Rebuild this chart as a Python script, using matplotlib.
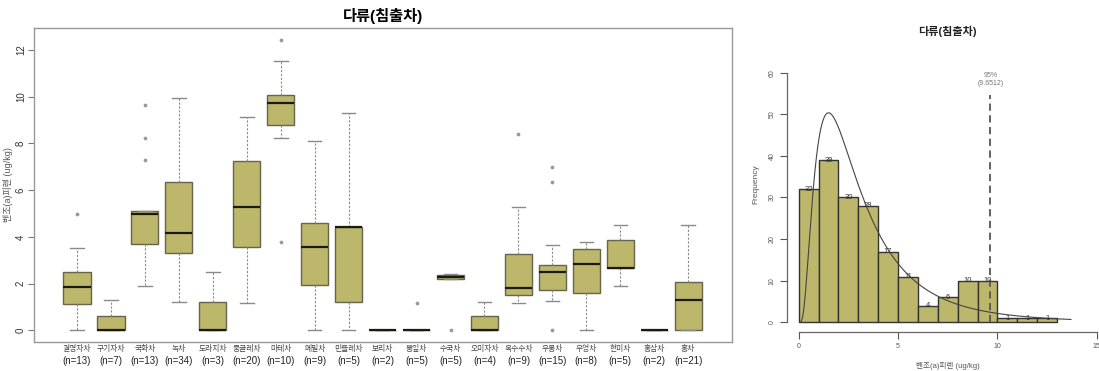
import numpy as np
import matplotlib
matplotlib.use("Agg")
import matplotlib.pyplot as plt
from matplotlib.transforms import offset_copy

plt.rcParams['font.family'] = ['Liberation Sans', 'Noto Sans CJK KR', 'DejaVu Sans']

# ---- box plot data: benzo(a)pyrene in infused teas (ug/kg) ----
teas = ["결명자차", "구기자차", "국화차", "녹차", "도라지차", "둥글레차", "마테차",
        "메밀차", "민들레차", "보리차", "뽕잎차", "수국차", "오미자차", "옥수수차",
        "우롱차", "우엉차", "현미차", "홍삼차", "홍차"]
counts_n = [13, 7, 13, 34, 3, 20, 10, 9, 5, 2, 5, 5, 4, 9, 15, 8, 5, 2, 21]
whisker_low = [0.0, 0.0, 1.91, 1.23, 0.0, 1.17, 8.22, 0.0, 0.0, 0.0, 0.0, 2.18, 0.0, 1.17, 1.24, 0.0, 1.90, 0.0, 0.0]
q1 = [1.13, 0.0, 3.68, 3.30, 0.0, 3.55, 8.79, 1.94, 1.20, 0.0, 0.0, 2.18, 0.0, 1.53, 1.71, 1.58, 2.67, 0.0, 0.0]
median = [1.87, 0.0, 4.98, 4.17, 0.0, 5.28, 9.75, 3.57, 4.41, 0.0, 0.0, 2.28, 0.0, 1.81, 2.51, 2.85, 2.68, 0.0, 1.30]
q3 = [2.48, 0.60, 5.09, 6.34, 1.23, 7.23, 10.09, 4.58, 4.44, 0.0, 0.0, 2.35, 0.60, 3.27, 2.80, 3.47, 3.87, 0.0, 2.08]
whisker_high = [3.51, 1.28, 5.09, 9.96, 2.48, 9.12, 11.54, 8.09, 9.32, 0.0, 0.0, 2.40, 1.20, 5.27, 3.65, 3.77, 4.51, 0.0, 4.49]
outliers = [[4.99], [], [7.31, 8.23, 9.66], [], [], [], [12.43, 3.77],
            [], [], [], [1.17], [0.0], [], [8.39], [6.35, 6.99, 0.0], [], [], [], []]

# ---- histogram data ----
bin_edges = [0, 1, 2, 3, 4, 5, 6, 7, 8, 9, 10, 11, 12, 13]
bin_counts = [32, 39, 30, 28, 17, 11, 4, 6, 10, 10, 1, 1, 1]
fit_meanlog = 0.975
fit_sdlog = 0.755
p95_value = 9.6512

box_fill = "#BDB76B"
box_edge = "#66644A"
grey = "#8A8A8A"

fig = plt.figure(figsize=(10.99, 3.71), dpi=100)
W, H = 1099, 371

# ---------------- left: box plots ----------------
ax = fig.add_axes([34.3 / W, 1 - 341.7 / H, (731.7 - 34.3) / W, (341.7 - 28.3) / H])
stats = []
for i in range(len(teas)):
    stats.append(dict(whislo=whisker_low[i], q1=q1[i], med=median[i], q3=q3[i],
                      whishi=whisker_high[i], fliers=outliers[i], label=teas[i]))
pos = np.arange(1, len(teas) + 1)
ax.bxp(stats, positions=pos, widths=0.8, patch_artist=True, showfliers=True,
       boxprops=dict(facecolor=box_fill, edgecolor=box_edge, linewidth=1.0),
       medianprops=dict(color="#1a1a10", linewidth=1.6, solid_capstyle="butt"),
       whiskerprops=dict(color=grey, linewidth=0.8, linestyle=(0, (2, 1.5))),
       capprops=dict(color=grey, linewidth=1.0),
       capwidths=0.4,
       flierprops=dict(marker='o', markersize=1.7, markerfacecolor="#999999",
                       markeredgecolor="#999999", linestyle='none'))
ax.set_xlim(-0.257, 20.28)
ax.set_ylim(-0.49, 12.93)
ax.set_yticks([0, 2, 4, 6, 8, 10, 12])
ax.set_yticklabels(["0", "2", "4", "6", "8", "10", "12"], rotation=90, va='center',
                   fontsize=7, color="#333333")
ax.tick_params(axis='y', length=4, color="#777777", pad=2)
ax.set_xticks([])
for s in ax.spines.values():
    s.set_color("#999999")
    s.set_linewidth(1.0)
ax.set_ylabel("벤조(a)피렌 (ug/kg)", fontsize=6.5, color="#555555", labelpad=2)
ax.set_title("다류(침출차)", fontsize=11, fontweight='bold', pad=5)

trans = ax.get_xaxis_transform()
for p, name, n in zip(pos, teas, counts_n):
    ax.text(p, 0, name, transform=offset_copy(trans, fig=fig, x=0, y=-7.6, units='dots'),
            ha='center', va='center', fontsize=5.6, color="#444444")
    ax.text(p, 0, f"(n={n})", transform=offset_copy(trans, fig=fig, x=0, y=-19.5, units='dots'),
            ha='center', va='center', fontsize=7, color="#222222")

# ---------------- right: histogram ----------------
hx = fig.add_axes([786.8 / W, 1 - 332.3 / H, (1108.7 - 786.8) / W, (332.3 - 62.7) / H])
edges = np.array(bin_edges, dtype=float)
widths = np.diff(edges)
hx.bar(edges[:-1], bin_counts, width=widths, align='edge', color=box_fill,
       edgecolor="#333333", linewidth=1.0)
for left, w, c in zip(edges[:-1], widths, bin_counts):
    hx.text(left + w / 2, c, str(c), ha='center', va='center', fontsize=5.5, color="#333333")

# fitted log-normal density scaled to counts
xs = np.linspace(0.1, 13.7, 400)
total = sum(bin_counts)
dens = np.exp(-(np.log(xs) - fit_meanlog) ** 2 / (2 * fit_sdlog ** 2)) / (xs * fit_sdlog * np.sqrt(2 * np.pi))
hx.plot(xs, dens * total * 1.0, color="#444444", linewidth=0.8)

hx.plot([p95_value, p95_value], [0, 54.6], color="#555555", linewidth=1.3,
        linestyle=(0, (4, 2.5)))
hx.text(p95_value, 59.3, "95%", ha='center', va='center', fontsize=5, color="#777777")
hx.text(p95_value, 57.3, f"({p95_value})", ha='center', va='center', fontsize=5, color="#777777")

hx.set_xlim(-0.6, 15.6)
hx.set_ylim(-2.4, 62.4)
hx.spines['top'].set_visible(False)
hx.spines['right'].set_visible(False)
hx.spines['left'].set_bounds(0, 60)
hx.spines['bottom'].set_bounds(0, 15)
for s in ('left', 'bottom'):
    hx.spines[s].set_color("#666666")
    hx.spines[s].set_linewidth(0.9)
hx.set_xticks([0, 5, 10, 15])
hx.set_yticks([0, 10, 20, 30, 40, 50, 60])
hx.set_yticklabels(["0", "10", "20", "30", "40", "50", "60"], rotation=90, va='center')
hx.tick_params(axis='both', labelsize=5, colors="#555555", length=5, pad=3)
hx.set_xlabel("벤조(a)피렌 (ug/kg)", fontsize=5.5, color="#555555", labelpad=8)
hx.set_ylabel("Frequency", fontsize=6, color="#555555", labelpad=10)
hx.yaxis.set_label_coords(-0.085, 0.55)
hx.set_title("다류(침출차)", fontsize=8, fontweight='bold', pad=20, color="#222222")

fig.savefig("out.png", dpi=100)
